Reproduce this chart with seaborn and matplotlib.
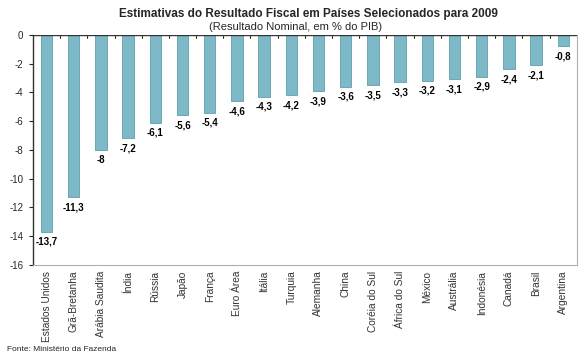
import numpy as np
import pandas as pd
import matplotlib
matplotlib.use("Agg")
import matplotlib.pyplot as plt
import seaborn as sns

paises = ["Estados Unidos", "Grã-Bretanha", "Arábia Saudita", "Índia", "Rússia",
          "Japão", "França", "Euro Área", "Itália", "Turquia", "Alemanha", "China",
          "Coréia do Sul", "África do Sul", "México", "Austrália", "Indonésia",
          "Canadá", "Brasil", "Argentina"]
resultado = [-13.7, -11.3, -8.0, -7.2, -6.1, -5.6, -5.4, -4.6, -4.3, -4.2, -3.9,
             -3.6, -3.5, -3.3, -3.2, -3.1, -2.9, -2.4, -2.1, -0.8]
yticks = [0, -2, -4, -6, -8, -10, -12, -14, -16]

sns.set_style("white")
plt.rcParams['font.family'] = ['Liberation Sans', 'DejaVu Sans']

df = pd.DataFrame({"pais": paises, "valor": resultado})

fig = plt.figure(figsize=(5.88, 3.6), dpi=100)
ax = fig.add_axes([0.056, 0.264, 0.925, 0.639])

sns.barplot(data=df, x="pais", y="valor", color="#7db9c7", saturation=1,
            width=0.42, edgecolor="#5d9fae", linewidth=0.6, ax=ax)

for i, v in enumerate(resultado):
    lab = f"{v:g}".replace(".", ",")
    ax.text(i, v - 0.35, lab, ha="center", va="top", fontsize=7,
            fontweight="bold", color="black")

ax.set_ylim(-16, 0)
ax.set_xlim(-0.5, len(paises) - 0.5)
ax.set_yticks(yticks)
ax.set_yticklabels([str(t) for t in yticks], fontsize=7)
ax.set_xticks(range(len(paises)))
ax.set_xticklabels(paises, rotation=90, fontsize=7.3, color="#333333")
ax.tick_params(axis="x", length=0, pad=4)
ax.tick_params(axis="y", length=3, width=0.8, direction="out", left=True, pad=4)
ax.set_xlabel("")
ax.set_ylabel("")

# category boundary ticks on the zero line
for b in np.arange(0.5, len(paises) - 0.5, 1):
    ax.plot([b, b], [0, -0.2], color="#333333", lw=0.8, clip_on=False)

ax.axhline(0, color="#333333", lw=1)
ax.spines["top"].set_visible(False)
ax.spines["left"].set_color("#333333")
ax.spines["left"].set_linewidth(1)
ax.spines["right"].set_color("#b0b0b0")
ax.spines["bottom"].set_color("#b0b0b0")
ax.spines["right"].set_linewidth(0.8)
ax.spines["bottom"].set_linewidth(0.8)

fig.text(0.525, 0.962, "Estimativas do Resultado Fiscal em Países Selecionados para 2009",
         ha="center", va="center", fontsize=8.5, fontweight="bold")
fig.text(0.503, 0.925, "(Resultado Nominal, em % do PIB)",
         ha="center", va="center", fontsize=8)
fig.text(0.012, 0.03, "Fonte: Ministério da Fazenda", ha="left", va="center",
         fontsize=6)

fig.savefig("out.png", dpi=100)
